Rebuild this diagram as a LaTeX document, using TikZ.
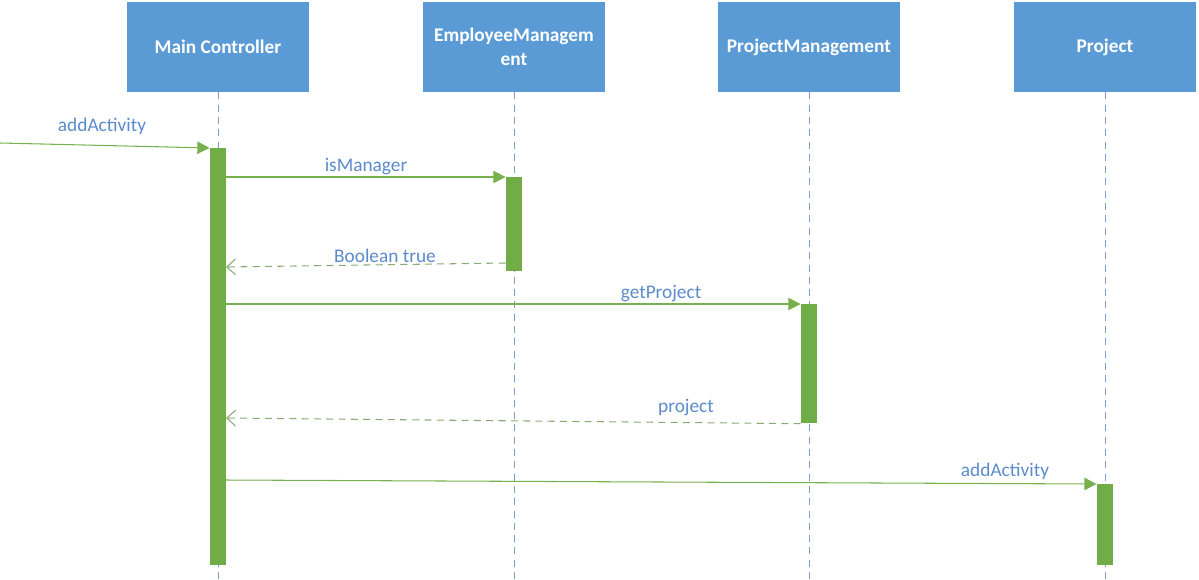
\documentclass[tikz,border=0pt]{standalone}
\usepackage{fontspec}
\setmainfont{Carlito}
\usetikzlibrary{arrows.meta, positioning}

\definecolor{objblue}{HTML}{5B9BD5}
\definecolor{lineblue}{HTML}{7A9CC6}
\definecolor{textblue}{HTML}{5B8BCB}
\definecolor{actgreen}{HTML}{70AD47}
\definecolor{msggreen}{HTML}{78B04E}
\definecolor{retgreen}{HTML}{8AAA74}

\tikzset{
    object/.style={fill=objblue, text=white, font=\fontsize{11}{13.7}\selectfont\bfseries,
        minimum width=3.64cm, minimum height=1.8cm, inner sep=0pt, align=center},
    lifeline/.style={draw=lineblue, dashed, dash pattern=on 4pt off 3pt, line width=0.5pt},
    activation/.style={fill=actgreen, minimum width=0.32cm, inner sep=0pt, anchor=north},
    call/.style={draw=msggreen, line width=0.6pt, -{Triangle[length=7pt, width=7pt]}},
    reply/.style={draw=retgreen, line width=0.6pt, dashed, dash pattern=on 4pt off 3pt,
        -{Straight Barb[length=5pt, width=9pt]}},
    msg/.style={text=textblue, font=\fontsize{11}{13}\selectfont}
}

\begin{document}
\begin{tikzpicture}[x=0.02cm, y=-0.02cm]
    \useasboundingbox (0,0) rectangle (1199,579);

    % Objects
    \node[object] (mc) at (218,47) {Main Controller};
    \node[object] (em) at (514,47) {EmployeeManagem\\ent};
    \node[object] (pm) at (809,47) {ProjectManagement};
    \node[object] (pr) at (1105,47) {Project};

    % Lifelines
    \coordinate (mcEnd) at (218,579);
    \coordinate (emEnd) at (514,579);
    \coordinate (pmEnd) at (809,579);
    \coordinate (prEnd) at (1105,579);
    \draw[lifeline] (mc.south) -- (mcEnd);
    \draw[lifeline] (em.south) -- (emEnd);
    \draw[lifeline] (pm.south) -- (pmEnd);
    \draw[lifeline] (pr.south) -- (prEnd);

    % Activations
    \node[activation, minimum height=8.34cm] (mcAct) at (218,148) {};
    \node[activation, minimum height=1.88cm] (emAct) at (514,177) {};
    \node[activation, minimum height=2.38cm] (pmAct) at (809,304) {};
    \node[activation, minimum height=1.62cm] (prAct) at (1105,484) {};

    % Incoming call
    \coordinate (start) at (0,143);
    \draw[call] (start) -- (mcAct.north west);
    \node[msg] (lblIn) at (102,126) {addActivity};

    % isManager
    \draw[call] (mcAct.east |- emAct.north) -- (emAct.north west);
    \node[msg] (lblMgr) at (366,167) {isManager};
    \coordinate (retMgr) at (226,267);
    \draw[reply] ([yshift=-1.72cm]emAct.north west) -- (retMgr);
    \node[msg] (lblBool) at (385,256) {Boolean true};

    % getProject
    \draw[call] (mcAct.east |- pmAct.north) -- (pmAct.north west);
    \node[msg] (lblGet) at (661,294) {getProject};
    \coordinate (retPrj) at (226,418);
    \draw[reply] (pmAct.south west) -- (retPrj);
    \node[msg] (lblPrj) at (686,407) {project};

    % addActivity on Project
    \coordinate (callAdd) at (226,480);
    \draw[call] (callAdd) -- (prAct.north west);
    \node[msg] (lblAdd) at (1005,471) {addActivity};
\end{tikzpicture}
\end{document}
